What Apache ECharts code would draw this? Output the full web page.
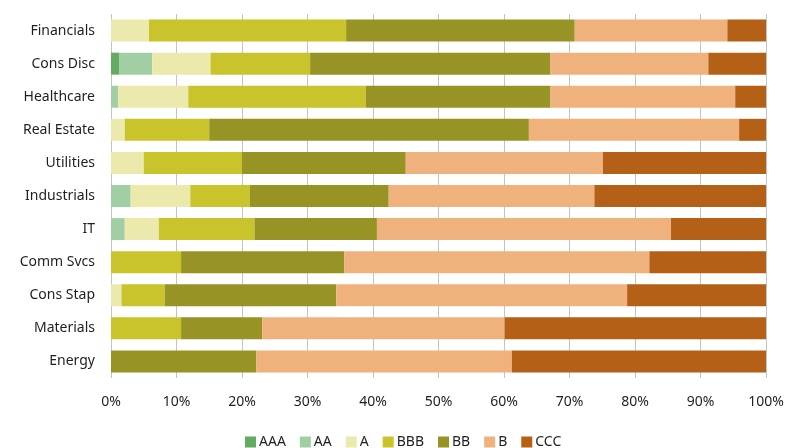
<!DOCTYPE html>
<html>
<head>
<meta charset="utf-8">
<script src="https://cdn.jsdelivr.net/npm/echarts@6/dist/echarts.min.js"></script>
<style>
  html, body { margin: 0; padding: 0; background: #fff; }
  #chart { width: 787px; height: 448px; }
</style>
</head>
<body>
<div id="chart"></div>
<script>
// Sectors, listed top to bottom
const sectors = ['Financials', 'Cons Disc', 'Healthcare', 'Real Estate', 'Utilities', 'Industrials', 'IT', 'Comm Svcs', 'Cons Stap', 'Materials', 'Energy'];

// Rating bucket shares per sector (%), same order as sectors
const ratings = ['AAA', 'AA', 'A', 'BBB', 'BB', 'B', 'CCC'];
const AAA = [0, 1.3, 0, 0, 0, 0, 0, 0, 0, 0, 0];
const AA  = [0, 5.0, 1.1, 0, 0, 3.0, 2.1, 0, 0, 0, 0];
const A   = [5.8, 8.9, 10.7, 2.1, 5.0, 9.1, 5.2, 0, 1.6, 0, 0];
const BBB = [30.1, 15.2, 27.1, 12.9, 15.0, 9.1, 14.6, 10.7, 6.6, 10.7, 0];
const BB  = [34.9, 36.7, 28.2, 48.8, 25.0, 21.2, 18.7, 24.9, 26.2, 12.4, 22.2];
const B   = [23.3, 24.1, 28.2, 32.1, 30.1, 31.4, 44.9, 46.6, 44.4, 37.0, 39.0];
const CCC = [5.9, 8.8, 4.7, 4.1, 24.9, 26.2, 14.5, 17.8, 21.2, 39.9, 38.8];

const xTicks = [0, 10, 20, 30, 40, 50, 60, 70, 80, 90, 100];

const seriesValues = [AAA, AA, A, BBB, BB, B, CCC];
const colors = ['#62ab62', '#a1cfa3', '#ebe9ab', '#cac42c', '#979324', '#f0b27c', '#b46016'];

const fontFamily = '"Noto Sans", "Open Sans", sans-serif';

const chart = echarts.init(document.getElementById('chart'), null, { renderer: 'canvas' });

chart.setOption({
  animation: false,
  textStyle: { fontFamily: fontFamily },
  grid: { left: 111, right: 21, top: 14, bottom: 70, containLabel: false },
  legend: {
    top: 430,
    left: 240,
    itemWidth: 11,
    itemHeight: 11,
    itemGap: 14,
    icon: 'rect',
    textStyle: { fontSize: 14, color: '#1f1f1f', fontFamily: fontFamily, padding: [0, 0, 0, -2] },
    data: ratings
  },
  xAxis: {
    type: 'value',
    min: 0,
    max: 100,
    interval: 10,
    axisLine: { show: false },
    axisTick: { show: false },
    splitLine: { show: true, lineStyle: { color: '#c4c4c4', width: 1 } },
    axisLabel: {
      color: '#1f1f1f',
      fontSize: 14,
      margin: 17,
      formatter: function (v) { return xTicks.indexOf(v) >= 0 ? v + '%' : ''; }
    }
  },
  yAxis: {
    type: 'category',
    inverse: true,
    data: sectors,
    axisLine: { show: false },
    axisTick: { show: false },
    splitLine: { show: false },
    axisLabel: { color: '#1f1f1f', fontSize: 14, margin: 16 }
  },
  series: ratings.map(function (name, i) {
    return {
      name: name,
      type: 'bar',
      stack: 'total',
      barWidth: 22,
      data: seriesValues[i],
      itemStyle: { color: colors[i], borderWidth: 0 },
      emphasis: { disabled: true }
    };
  })
});
</script>
</body>
</html>
